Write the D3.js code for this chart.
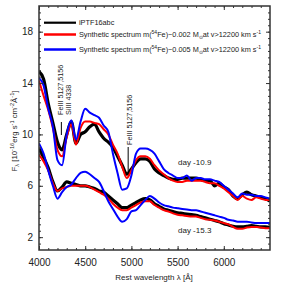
<!DOCTYPE html>
<html>
<head>
<meta charset="utf-8">
<script src="https://cdnjs.cloudflare.com/ajax/libs/d3/7.8.5/d3.min.js"></script>
<style>
  body { margin: 0; background: #fff; }
  svg text { font-family: "Liberation Sans", Arial, sans-serif; fill: #222; }
</style>
</head>
<body>
<div class="chart"></div>
<script>
// wavelength grid, 50 A steps
var wave = d3.range(4000, 6501, 50);

// day -10.9
var obsLate = [14.9,14.3,12.4,10.9,9.4,8.8,10.0,11.0,9.3,10.0,10.2,10.6,10.8,10.2,9.7,9.4,9.0,8.3,7.6,6.9,
  7.3,7.8,8.1,8.1,7.9,7.3,7.0,6.8,6.6,6.5,6.5,6.6,6.6,6.6,6.6,6.5,6.4,6.4,6.0,6.2,
  5.9,5.7,5.2,5.0,5.3,5.5,5.3,5.2,5.1,5.0,4.8];
var lowLate = [14.2,13.0,11.9,10.5,8.8,8.3,9.8,10.8,9.2,10.5,11.0,11.0,10.9,10.8,10.4,10.0,9.2,8.5,7.5,6.6,
  7.2,8.0,8.3,8.3,8.1,7.6,7.2,6.9,6.6,6.4,6.3,6.3,6.4,6.4,6.4,6.4,6.3,6.2,6.2,6.0,
  5.8,5.5,5.2,4.9,5.2,5.0,4.9,5.1,5.0,4.9,4.9];
var highLate = [14.4,13.8,12.0,10.6,8.0,7.6,10.0,11.1,9.6,11.0,12.0,11.7,11.5,11.3,10.7,10.2,8.5,7.0,5.7,5.8,
  6.8,8.5,8.9,8.9,8.8,8.5,7.9,7.3,7.0,6.8,6.6,6.6,6.8,6.4,6.6,6.6,6.5,6.5,6.4,6.3,
  6.0,5.7,5.4,5.1,5.4,5.3,5.3,5.2,5.2,5.1,5.0];

// day -15.3
var obsEarly = [8.9,8.2,7.4,6.3,5.6,5.9,6.3,6.2,6.1,6.0,6.0,5.9,5.8,5.6,5.5,5.2,4.9,4.6,4.3,4.3,
  4.5,4.7,4.9,5.0,4.9,4.6,4.4,4.2,4.1,4.0,3.9,3.85,3.8,3.75,3.7,3.6,3.5,3.4,3.3,3.2,
  3.05,2.95,2.85,2.8,2.8,2.85,2.9,2.85,2.8,2.8,2.75];
var lowEarly = [8.4,7.9,7.2,6.2,5.6,5.8,5.9,6.0,6.0,6.0,6.0,5.9,5.7,5.5,5.3,5.0,4.6,4.3,4.1,4.1,
  4.3,4.5,4.7,4.8,4.8,4.5,4.3,4.1,4.0,3.85,3.75,3.7,3.65,3.6,3.6,3.5,3.4,3.35,3.3,3.2,
  3.1,3.0,2.8,2.65,2.65,2.75,2.8,2.8,2.75,2.7,2.7];
var highEarly = [9.3,8.5,7.2,6.0,5.0,5.5,5.9,6.1,6.6,7.0,7.1,6.9,6.6,6.3,5.6,4.8,4.2,3.6,3.2,3.4,
  4.0,4.1,4.5,4.9,5.2,5.0,4.7,4.5,4.4,4.3,4.25,4.2,4.15,4.1,4.1,4.0,3.9,3.8,3.7,3.6,
  3.5,3.35,3.3,3.2,3.2,3.2,3.15,3.1,3.1,3.1,3.1];

var xTicks = [4000, 4500, 5000, 5500, 6000];
var yTicks = [2, 6, 10, 14, 18];

var legendNames = ["iPTF16abc", "0.002", "0.005"];
var colors = ["#000000", "#ff0000", "#0000ff"];
var widths = [3.2, 2, 2];

var options = { width: 299, height: 284, left: 39, right: 270, top: 6, bottom: 250 };

var svg = d3.select(".chart").append("svg")
    .attr("width", options.width)
    .attr("height", options.height);

var xScale = d3.scaleLinear().domain([4000, 6500]).range([options.left, options.right]);
var yScale = d3.scaleLinear().domain([1, 20]).range([options.bottom, options.top]);

var line = d3.line()
    .x(function(d, i) { return xScale(wave[i]); })
    .y(function(d) { return yScale(d); })
    .curve(d3.curveMonotoneX);

svg.append("clipPath").attr("id", "clip").append("rect")
    .attr("x", options.left).attr("y", options.top)
    .attr("width", options.right - options.left).attr("height", options.bottom - options.top);

var plot = svg.append("g").attr("clip-path", "url(#clip)");
[[obsEarly, lowEarly, highEarly], [obsLate, lowLate, highLate]].forEach(function(group) {
    group.forEach(function(s, k) {
        plot.append("path")
            .datum(s)
            .attr("fill", "none")
            .attr("stroke", colors[k])
            .attr("stroke-width", widths[k])
            .attr("stroke-linejoin", "round")
            .attr("d", line);
    });
});

// axes, ticks inward on all four sides
function styleAxis(g) {
    g.select(".domain").remove();
    g.selectAll("line").attr("stroke", "#333").attr("stroke-width", 1);
}
var minorX = d3.range(4100, 6500, 100);
var minorY = d3.range(1.5, 20, 0.5);
var bottomMajor = d3.axisBottom(xScale).tickValues(xTicks).tickSize(-4).tickPadding(9).tickFormat(d3.format("d"));
var bottomMinor = d3.axisBottom(xScale).tickValues(minorX).tickSize(-2).tickFormat("");
var topMajor = d3.axisTop(xScale).tickValues(xTicks).tickSize(-4).tickFormat("");
var topMinor = d3.axisTop(xScale).tickValues(minorX).tickSize(-2).tickFormat("");
var leftMajor = d3.axisLeft(yScale).tickValues(yTicks).tickSize(-4).tickPadding(6);
var leftMinor = d3.axisLeft(yScale).tickValues(minorY).tickSize(-2).tickFormat("");
var rightMajor = d3.axisRight(yScale).tickValues(yTicks).tickSize(-4).tickFormat("");
var rightMinor = d3.axisRight(yScale).tickValues(minorY).tickSize(-2).tickFormat("");

[[bottomMajor, "0," + options.bottom], [bottomMinor, "0," + options.bottom],
 [topMajor, "0," + options.top], [topMinor, "0," + options.top],
 [leftMajor, options.left + ",0"], [leftMinor, options.left + ",0"],
 [rightMajor, options.right + ",0"], [rightMinor, options.right + ",0"]].forEach(function(a) {
    svg.append("g")
        .attr("transform", "translate(" + a[1] + ")")
        .call(a[0])
        .call(styleAxis);
});
svg.selectAll(".tick text").attr("font-size", 10).attr("fill", "#222")
    .attr("font-family", "Liberation Sans, Arial, sans-serif");

svg.append("rect")
    .attr("x", options.left).attr("y", options.top)
    .attr("width", options.right - options.left).attr("height", options.bottom - options.top)
    .attr("fill", "none").attr("stroke", "#333").attr("stroke-width", 1.5);

// axis titles
svg.append("text")
    .attr("x", 154).attr("y", 280)
    .attr("text-anchor", "middle").attr("font-size", 8)
    .text("Rest wavelength \u03bb  [\u00c5]");

var yl = svg.append("text")
    .attr("transform", "translate(16.5,131) rotate(-90)")
    .attr("text-anchor", "middle").attr("font-size", 7.8);
yl.append("tspan").text("F");
yl.append("tspan").attr("font-size", 5.6).attr("dy", 2).text("\u03bb");
yl.append("tspan").attr("dy", -2).text(" [10");
yl.append("tspan").attr("font-size", 5.6).attr("dy", -3).text("-16");
yl.append("tspan").attr("dy", 3).text("erg s");
yl.append("tspan").attr("font-size", 5.6).attr("dy", -3).text("-1");
yl.append("tspan").attr("dy", 3).text(" cm");
yl.append("tspan").attr("font-size", 5.6).attr("dy", -3).text("-2");
yl.append("tspan").attr("dy", 3).text("\u00c5");
yl.append("tspan").attr("font-size", 5.6).attr("dy", -3).text("-1");
yl.append("tspan").attr("dy", 3).text("]");

// legend
var legY = [22.7, 34.5, 49.5];
legendNames.forEach(function(name, k) {
    svg.append("line")
        .attr("x1", 44).attr("x2", 76)
        .attr("y1", legY[k]).attr("y2", legY[k])
        .attr("stroke", colors[k]).attr("stroke-width", k == 0 ? 2.2 : 2.5);
    var t = svg.append("text")
        .attr("x", 79).attr("y", legY[k] + 2.5)
        .attr("font-size", 7.3);
    if (k == 0) {
        t.text(name);
    } else {
        t.append("tspan").text("Synthetic spectrum m(");
        t.append("tspan").attr("font-size", 5).attr("dy", -2.7).text("54");
        t.append("tspan").attr("dy", 2.7).text("Fe)~" + name + " M");
        t.append("tspan").attr("font-size", 5).attr("dy", 1.8).text("\u2299");
        t.append("tspan").attr("dy", -1.8).text("at v>12200 km s");
        t.append("tspan").attr("font-size", 5).attr("dy", -2.7).text("-1");
    }
});

// line identifications
function ident(x, y, label) {
    svg.append("text")
        .attr("transform", "translate(" + x + "," + y + ") rotate(-90)")
        .attr("font-size", 7.2)
        .text(label);
}
ident(63, 115, "FeIII 5127,5156");
ident(70.5, 115, "SiIII 4338");
ident(131.5, 145, "FeIII 5127,5156");
svg.append("line").attr("x1", xScale(4242)).attr("x2", xScale(4242))
    .attr("y1", 122).attr("y2", 135).attr("stroke", "#000").attr("stroke-width", 1);
svg.append("line").attr("x1", xScale(4965)).attr("x2", xScale(4965))
    .attr("y1", 147).attr("y2", 172).attr("stroke", "#000").attr("stroke-width", 1);

svg.append("text").attr("x", 178).attr("y", 165).attr("font-size", 8).text("day -10.9");
svg.append("text").attr("x", 178).attr("y", 233).attr("font-size", 8).text("day -15.3");
</script>
</body>
</html>
